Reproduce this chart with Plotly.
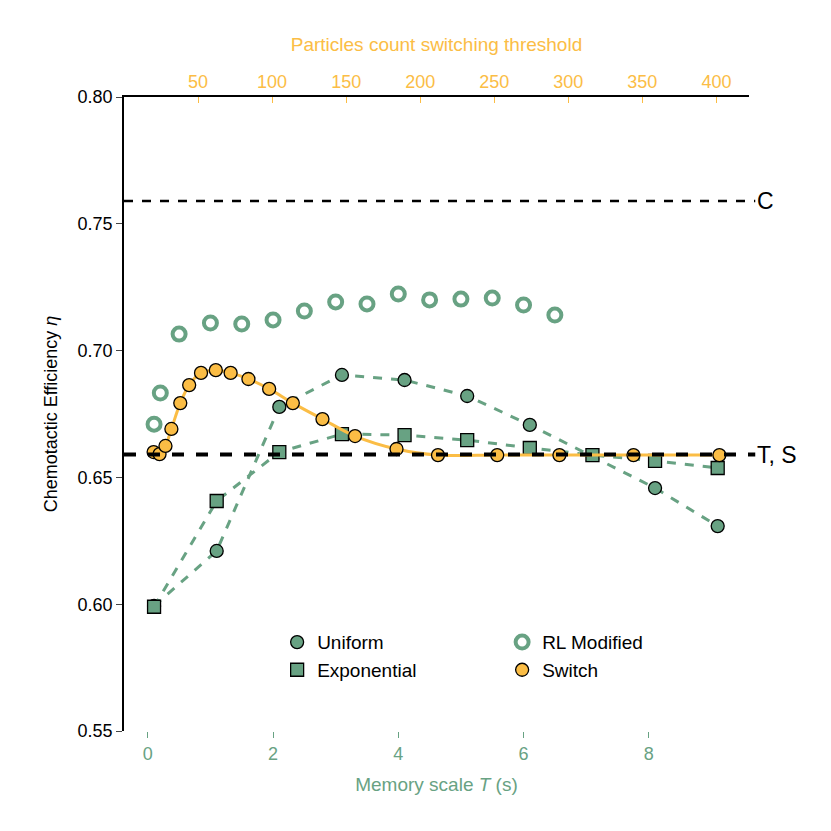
import plotly.graph_objects as go

green = "#68a283"
orange = "#fbbd45"

uni_x = [0.1, 1.1, 2.1, 3.1, 4.1, 5.1, 6.1, 8.1, 9.1]
uni_y = [0.5993, 0.621, 0.6778, 0.6904, 0.6884, 0.6821, 0.6707, 0.6458, 0.6308]

exp_x = [0.1, 1.1, 2.1, 3.1, 4.1, 5.1, 6.1, 7.1, 8.1, 9.1]
exp_y = [0.599, 0.6407, 0.660, 0.6671, 0.6667, 0.6647, 0.6616, 0.6588, 0.6565, 0.6537]

rl_x = [0.1, 0.2, 0.5, 1.0, 1.5, 2.0, 2.5, 3.0, 3.5, 4.0, 4.5, 5.0, 5.5, 6.0, 6.5]
rl_y = [0.671, 0.6833, 0.7065, 0.7109, 0.7105, 0.7121, 0.7156, 0.7192, 0.7184,
        0.7223, 0.720, 0.7203, 0.7207, 0.718, 0.714]

sw_x = [20, 24, 28, 32, 38, 44, 52, 62, 72, 84, 98, 114, 134, 156, 184, 212, 252, 294, 344, 402]
sw_y = [0.660, 0.6592, 0.6624, 0.6691, 0.6793, 0.6864, 0.6912, 0.6923, 0.6912, 0.6888,
        0.6849, 0.6793, 0.673, 0.6663, 0.6612, 0.6588, 0.6588, 0.6588, 0.6588, 0.6588]

c_level = 0.759
ts_level = 0.659

fig = go.Figure()
mk = dict(size=13, line=dict(color="black", width=1.3))
uni_mk = dict(color=green, symbol="circle", **mk)
rl_mk = dict(color="rgba(0,0,0,0)", symbol="circle", size=13, line=dict(color=green, width=4))
exp_mk = dict(color=green, symbol="square", **mk)
sw_mk = dict(color=orange, symbol="circle", **mk)

fig.add_trace(go.Scatter(x=uni_x, y=uni_y, mode="lines+markers", showlegend=False,
                         line=dict(color=green, width=3, dash="dash"), marker=uni_mk))
fig.add_trace(go.Scatter(x=rl_x, y=rl_y, mode="markers", showlegend=False, marker=rl_mk))
fig.add_trace(go.Scatter(x=exp_x, y=exp_y, mode="lines+markers", showlegend=False,
                         line=dict(color=green, width=3, dash="dash"), marker=exp_mk))
fig.add_trace(go.Scatter(x=sw_x, y=sw_y, mode="lines+markers", xaxis="x2", showlegend=False,
                         line=dict(color=orange, width=3, shape="spline"), marker=sw_mk))

# legend entries: markers only
for name, m in [("Uniform", uni_mk), ("RL Modified", rl_mk), ("Exponential", exp_mk), ("Switch", sw_mk)]:
    fig.add_trace(go.Scatter(x=[None], y=[None], mode="markers", name=name, marker=m))

fig.add_shape(type="line", xref="paper", yref="y", x0=0, x1=1.01, y0=c_level, y1=c_level,
              line=dict(color="black", width=2.5, dash="dash"))
fig.add_shape(type="line", xref="paper", yref="y", x0=0, x1=1.01, y0=ts_level, y1=ts_level,
              line=dict(color="black", width=4, dash="dash"))
fig.add_annotation(xref="paper", yref="y", x=1.01, y=c_level, text="C", showarrow=False,
                   xanchor="left", font=dict(size=23, color="black"))
fig.add_annotation(xref="paper", yref="y", x=1.01, y=ts_level, text="T, S", showarrow=False,
                   xanchor="left", font=dict(size=23, color="black"))

fig.update_layout(
    width=831, height=831, plot_bgcolor="white", paper_bgcolor="white",
    margin=dict(l=116, r=90, t=89, b=108),
    font=dict(family="Liberation Sans, Arial", size=18, color="black"),
    xaxis=dict(range=[-0.38, 9.6], tickvals=[0, 2, 4, 6, 8], showgrid=False, zeroline=False,
               ticks="outside", ticklen=6, tickcolor=green, tickfont=dict(color=green),
               title=dict(text="Memory scale <i>T</i> (s)", font=dict(color=green, size=19))),
    xaxis2=dict(range=[0, 422], overlaying="x", side="top", tickvals=list(range(50, 401, 50)),
                showgrid=False, zeroline=False, ticks="inside", ticklen=6, tickcolor=orange,
                tickfont=dict(color=orange), showline=True, linecolor="black", linewidth=1.5,
                title=dict(text="Particles count switching threshold", font=dict(color=orange, size=19))),
    yaxis=dict(range=[0.55, 0.80], tickvals=[0.55, 0.60, 0.65, 0.70, 0.75, 0.80], tickformat=".2f",
               showgrid=False, zeroline=False, showline=True, linecolor="black", linewidth=1.5,
               ticks="outside", ticklen=6,
               title=dict(text="Chemotactic Efficiency <i>η</i>", font=dict(size=18))),
    legend=dict(orientation="h", x=0.245, y=0.17, xanchor="left", yanchor="top",
                entrywidth=180, bgcolor="rgba(0,0,0,0)", font=dict(size=19)),
    showlegend=True,
)

fig.write_html("out.html")
